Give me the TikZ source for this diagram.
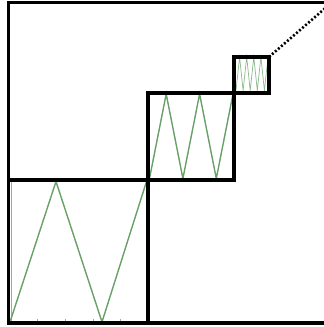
\documentclass[tikz,border=0pt]{standalone}
\definecolor{zgreen}{RGB}{104,160,104}
\definecolor{zlight}{RGB}{140,185,140}
\begin{document}
\begin{tikzpicture}[x=1pt,y=1pt,
  box/.style={draw=black,line width=3.4pt,inner sep=0pt,outer sep=0pt,anchor=south west},
  zz/.style={draw=zgreen,line width=1.4pt,line join=miter},
  zzs/.style={draw=zlight,line width=0.7pt},
  axis/.style={draw=black!35,line width=0.5pt}]
\useasboundingbox (0,0) rectangle (324,327);
\clip (0,0) rectangle (324,327);
% outer square (right edge off the picture)
\draw[line width=3.4pt] (8.5,4) rectangle (345,324.5);
% faint axes and ticks of the large box
\draw[axis] (11,6) -- (11,145) (11,6) -- (146,6);
\foreach \t in {37,65,93,120} \draw[axis] (\t,6) -- (\t,8);
% zigzags
\draw[zz] (10,5) -- (56,145.5) -- (102,5) -- (146.5,145.5);
\draw[zz] (149.5,148.5) -- (166.2,233) -- (182.9,148.5) -- (199.6,233) -- (216.3,148.5) -- (233,233);
\draw[zzs] (236,236.5) -- (239.6,270) -- (243.1,236.5) -- (246.7,270) -- (250.2,236.5) -- (253.8,270) -- (257.3,236.5) -- (260.9,270) -- (264.4,236.5) -- (268,270);
% boxes
\node[box,minimum width=139.5pt,minimum height=143pt] (big) at (8.5,4) {};
\node[box,minimum width=86pt,minimum height=87pt] (mid) at (big.north east) {};
\node[box,minimum width=35pt,minimum height=36pt] (small) at (mid.north east) {};
\coordinate (far) at (330,323);
\draw[line width=2.6pt,dash pattern=on 2pt off 2pt] (small.north east) -- (far);
\end{tikzpicture}
\end{document}
